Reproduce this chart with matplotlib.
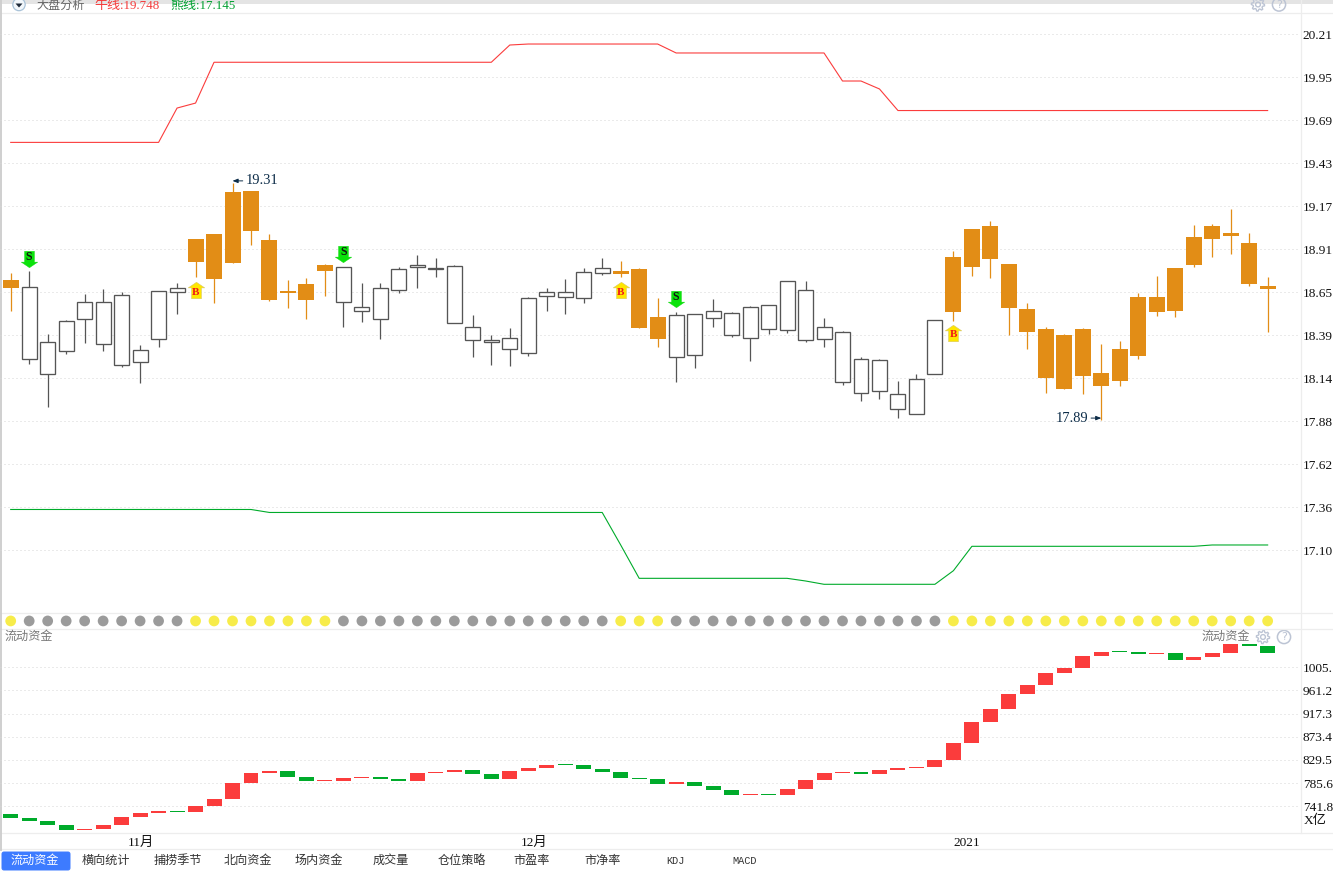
import matplotlib
matplotlib.use('Agg')
import matplotlib.pyplot as plt
from matplotlib.patches import Circle, FancyBboxPatch, Polygon
from matplotlib.path import Path
import numpy as np

plt.rcParams['font.family'] = ['Liberation Serif', 'Noto Sans CJK SC', 'DejaVu Sans']

W, H = 1333, 872

# candle data, one row per trading day
body_top = [18.729, 18.685, 18.353, 18.480, 18.595, 18.595, 18.637, 18.305, 18.661, 18.679,
            18.976, 19.006, 19.260, 19.266, 18.970, 18.663, 18.705, 18.820, 18.806, 18.566,
            18.679, 18.793, 18.820, 18.802, 18.812, 18.444, 18.367, 18.377, 18.619, 18.655,
            18.655, 18.775, 18.799, 18.783, 18.795, 18.506, 18.516, 18.522, 18.540, 18.528,
            18.564, 18.576, 18.721, 18.667, 18.444, 18.414, 18.251, 18.245, 18.040, 18.130,
            18.486, 18.868, 19.037, 19.055, 18.826, 18.554, 18.434, 18.398, 18.434, 18.169,
            18.313, 18.627, 18.627, 18.801, 18.989, 19.055, 19.013, 18.952, 18.693]
body_bot = [18.683, 18.251, 18.161, 18.299, 18.492, 18.341, 18.215, 18.233, 18.371, 18.655,
            18.838, 18.735, 18.832, 19.025, 18.609, 18.651, 18.609, 18.783, 18.595, 18.544,
            18.492, 18.667, 18.808, 18.793, 18.468, 18.365, 18.357, 18.311, 18.287, 18.631,
            18.625, 18.619, 18.769, 18.765, 18.440, 18.373, 18.263, 18.275, 18.498, 18.396,
            18.377, 18.432, 18.426, 18.365, 18.371, 18.112, 18.046, 18.058, 17.950, 17.920,
            18.161, 18.536, 18.808, 18.856, 18.560, 18.416, 18.138, 18.072, 18.150, 18.090,
            18.120, 18.271, 18.536, 18.542, 18.820, 18.976, 18.994, 18.705, 18.675]
high = [18.769, 18.783, 18.404, 18.488, 18.645, 18.675, 18.655, 18.337, 18.661, 18.709,
        18.976, 19.006, 19.314, 19.266, 19.006, 18.729, 18.741, 18.826, 18.808, 18.711,
        18.711, 18.808, 18.880, 18.862, 18.820, 18.518, 18.398, 18.440, 18.627, 18.681,
        18.735, 18.799, 18.862, 18.844, 18.801, 18.621, 18.536, 18.522, 18.615, 18.536,
        18.572, 18.576, 18.721, 18.723, 18.500, 18.422, 18.265, 18.253, 18.120, 18.162,
        18.486, 18.904, 19.037, 19.085, 18.826, 18.591, 18.446, 18.404, 18.440, 18.343,
        18.361, 18.651, 18.753, 18.801, 19.061, 19.067, 19.157, 19.013, 18.747]
low = [18.544, 18.225, 17.966, 18.285, 18.351, 18.303, 18.207, 18.110, 18.327, 18.524,
       18.749, 18.593, 18.832, 18.940, 18.603, 18.560, 18.494, 18.633, 18.446, 18.476,
       18.373, 18.651, 18.681, 18.747, 18.468, 18.267, 18.217, 18.213, 18.273, 18.544,
       18.526, 18.593, 18.761, 18.747, 18.440, 18.325, 18.114, 18.199, 18.446, 18.384,
       18.241, 18.404, 18.410, 18.355, 18.325, 18.096, 18.000, 18.012, 17.897, 17.920,
       18.161, 18.482, 18.753, 18.741, 18.398, 18.313, 18.048, 18.072, 18.042, 17.885,
       18.090, 18.253, 18.512, 18.506, 18.808, 18.868, 18.886, 18.693, 18.416]
# 1 = orange day and yellow dot, 0 = hollow day and grey dot
state = [1, 0, 0, 0, 0, 0, 0, 0, 0, 0,
         1, 1, 1, 1, 1, 1, 1, 1, 0, 0,
         0, 0, 0, 0, 0, 0, 0, 0, 0, 0,
         0, 0, 0, 1, 1, 1, 0, 0, 0, 0,
         0, 0, 0, 0, 0, 0, 0, 0, 0, 0,
         0, 1, 1, 1, 1, 1, 1, 1, 1, 1,
         1, 1, 1, 1, 1, 1, 1, 1, 1]

bull_line = [19.559, 19.559, 19.559, 19.559, 19.559, 19.559, 19.559, 19.559, 19.559, 19.766,
             19.796, 20.042, 20.042, 20.042, 20.042, 20.042, 20.042, 20.042, 20.042, 20.042,
             20.042, 20.042, 20.042, 20.042, 20.042, 20.042, 20.042, 20.146, 20.152, 20.152,
             20.152, 20.152, 20.152, 20.152, 20.152, 20.152, 20.098, 20.098, 20.098, 20.098,
             20.098, 20.098, 20.098, 20.098, 20.098, 19.929, 19.929, 19.881, 19.751, 19.751,
             19.751, 19.751, 19.751, 19.751, 19.751, 19.751, 19.751, 19.751, 19.751, 19.751,
             19.751, 19.751, 19.751, 19.751, 19.751, 19.751, 19.751, 19.751, 19.751]
bear_line = [17.346, 17.346, 17.346, 17.346, 17.346, 17.346, 17.346, 17.346, 17.346, 17.346,
             17.346, 17.346, 17.346, 17.346, 17.328, 17.328, 17.328, 17.328, 17.328, 17.328,
             17.328, 17.328, 17.328, 17.328, 17.328, 17.328, 17.328, 17.328, 17.328, 17.328,
             17.328, 17.328, 17.328, 17.132, 16.931, 16.931, 16.931, 16.931, 16.931, 16.931,
             16.931, 16.931, 16.931, 16.915, 16.895, 16.895, 16.895, 16.895, 16.895, 16.895,
             16.895, 16.977, 17.124, 17.124, 17.124, 17.124, 17.124, 17.124, 17.124, 17.124,
             17.124, 17.124, 17.124, 17.124, 17.124, 17.132, 17.132, 17.132, 17.132]

# running total, each block goes from one value to the next
flow = [727.1, 719.5, 713.8, 706.2, 696.7, 698.6, 706.2, 721.4, 729.0, 732.8,
        731.4, 742.2, 755.5, 785.8, 804.7, 808.6, 797.2, 789.6, 790.5, 795.3,
        797.2, 793.4, 789.6, 804.7, 806.7, 810.5, 802.9, 793.4, 808.6, 814.3,
        820.0, 819.4, 812.4, 806.7, 795.3, 793.4, 783.9, 787.7, 780.1, 772.5,
        763.0, 764.9, 763.6, 774.4, 791.5, 804.7, 806.7, 803.8, 810.5, 814.3,
        816.2, 829.4, 861.6, 901.4, 926.0, 954.5, 971.5, 994.2, 1003.7, 1026.3,
        1034.0, 1033.5, 1030.3, 1032.2, 1018.9, 1024.6, 1032.2, 1049.2, 1045.4, 1032.2]

price_ticks = [20.21, 19.951, 19.692, 19.432, 19.173, 18.914, 18.655, 18.396, 18.136, 17.877, 17.618, 17.359, 17.10]
price_labels = ['20.21', '19.95', '19.69', '19.43', '19.17', '18.91', '18.65', '18.39', '18.14', '17.88', '17.62', '17.36', '17.10']
flow_ticks = [1005.1, 961.2, 917.3, 873.4, 829.5, 785.6, 741.8]
flow_labels = ['1005.', '961.2', '917.3', '873.4', '829.5', '785.6', '741.8']
month_pos = [7.05, 28.3, 51.7]
month_labels = ['11月', '12月', '2021']
tab_names = ['流动资金', '横向统计', '捕捞季节', '北向资金', '场内资金', '成交量', '仓位策略', '市盈率', '市净率', 'KDJ', 'MACD']
tab_centers = [35, 106, 178, 248, 319, 391, 462, 532, 603, 675, 745]

sell_idx = [1, 18, 36]
sell_price = [18.856, 18.886, 18.615]
buy_idx = [10, 33, 51]
buy_price = [18.669, 18.669, 18.410]

ORANGE = '#E28D16'
DARK = '#555555'
RED = '#FB3C3C'
GREEN = '#00AB2B'
NAVY = '#0C2C48'
ICON = '#BCC4D4'
LINE = '#EDEDED'
GRID = '#D6D6D6'


def make_axes(fig, left, top, right, bottom):
    return fig.add_axes([left / W, 1 - bottom / H, (right - left) / W, (bottom - top) / H])


def style_axes(ax):
    ax.patch.set_visible(False)
    for s in ax.spines.values():
        s.set_visible(False)
    ax.set_xlim(-0.579, 69.75)
    ax.yaxis.tick_right()
    ax.tick_params(axis='both', length=0, labelsize=9.6, pad=2.0, labelcolor='#111111')
    ax.grid(axis='y', color=GRID, lw=0.72, ls=(0, (1, 3)))
    ax.set_axisbelow(True)


def draw_gear(ax, cx, cy):
    # outline gear icon, 8 teeth
    angles = np.arange(0, 2 * np.pi, np.pi / 16)
    radius = np.where((np.arange(len(angles)) % 4) < 2, 6.6, 4.9)
    pts = np.column_stack([cx + radius * np.cos(angles), cy + radius * np.sin(angles)])
    ax.add_patch(Polygon(pts, fc='none', ec=ICON, lw=1.0))
    ax.add_patch(Circle((cx, cy), 2.4, fc='none', ec=ICON, lw=1.0))


fig = plt.figure(figsize=(W / 100, H / 100), dpi=100)

# layout furniture drawn in pixel units
bg = fig.add_axes([0, 0, 1, 1])
bg.set_xlim(0, W)
bg.set_ylim(H, 0)
bg.axis('off')
bg.axhspan(0, 4.5, color='#E4E4E4', lw=0)
for y in [13.5, 612.5, 628.5, 832.5, 848.5]:
    bg.plot([0, W], [y, y], color=LINE, lw=0.9)
bg.plot([1300.5, 1300.5], [0, 832.5], color=LINE, lw=0.9)
bg.plot([0.5, 0.5], [0, 850], color='#CFCFCF', lw=1.4)

bg.add_patch(Circle((19, 4.5), 6.2, fc='#F2F7FB', ec='#A9C2D8', lw=0.9))
bg.add_patch(Polygon([(15.5, 3.5), (22.5, 3.5), (19, 7.5)], fc='#1E2A3A', ec='none'))
bg.text(36, 6, '大盘分析', color='#666666', fontsize=8.7, va='center')
bg.text(94, 6, '牛线:19.748', color='#F53A3A', fontsize=9.4, va='center')
bg.text(170, 6, '熊线:17.145', color='#00A030', fontsize=9.4, va='center')
bg.text(5, 636.5, '流动资金', color='#777777', fontsize=8.7, va='center')
bg.text(1202, 636.5, '流动资金', color='#777777', fontsize=8.7, va='center')
bg.text(1304, 821, 'X亿', color='#111111', fontsize=9.6, va='center')

for cx, cy in [(1258, 4.5), (1263, 637)]:
    draw_gear(bg, cx, cy)
for cx, cy in [(1279, 4.5), (1284, 637)]:
    bg.add_patch(Circle((cx, cy), 6.6, fc='none', ec=ICON, lw=1.1))
    bg.text(cx, cy, '?', color=ICON, fontsize=8, ha='center', va='center', family='DejaVu Sans')

bg.add_patch(FancyBboxPatch((2, 852), 68, 18, boxstyle='round,pad=0,rounding_size=2', fc='#3D7BFF', ec='#3D7BFF', lw=0.7))
for i, (name, cx) in enumerate(zip(tab_names, tab_centers)):
    if name in ('KDJ', 'MACD'):
        bg.text(cx, 861, name, color='#333333', fontsize=7.4, ha='center', va='center', family='Liberation Mono')
    else:
        bg.text(cx, 861, name, color='white' if i == 0 else '#333333', fontsize=8.7, ha='center', va='center')

# price panel
ax = make_axes(fig, 0, 13, 1300, 612)
style_axes(ax)
ax.set_ylim(16.728, 20.339)
ax.set_yticks(price_ticks, price_labels)
ax.set_xticks([])

days = np.arange(len(state))
top = np.array(body_top)
bot = np.array(body_bot)
is_orange = np.array(state) == 1
wick_colors = [ORANGE if s else DARK for s in state]
ax.vlines(days, low, high, colors=wick_colors, lw=0.9, zorder=2)
ax.bar(days[is_orange], (top - bot)[is_orange], bottom=bot[is_orange], width=0.866, color=ORANGE, lw=0, zorder=3)
ax.bar(days[~is_orange], (top - bot)[~is_orange], bottom=bot[~is_orange], width=0.81, facecolor='white', edgecolor=DARK, lw=0.95, zorder=3)

ax.plot(days, bull_line, color=RED, lw=0.8, zorder=2)
ax.plot(days, bear_line, color=GREEN, lw=0.8, zorder=2)

up_arrow = Path([(-0.5, 0.16), (0, 0.5), (0.5, 0.16), (0.3, 0.16), (0.3, -0.5), (-0.3, -0.5), (-0.3, 0.16), (-0.5, 0.16)], closed=True)
down_arrow = Path([(-0.5, -0.16), (0, -0.5), (0.5, -0.16), (0.3, -0.16), (0.3, 0.5), (-0.3, 0.5), (-0.3, -0.16), (-0.5, -0.16)], closed=True)
ax.plot(sell_idx, sell_price, ls='none', marker=down_arrow, ms=11.8, mfc='#0BE30B', mec='#0BD80B', mew=0.3, zorder=5)
ax.plot(buy_idx, buy_price, ls='none', marker=up_arrow, ms=11.8, mfc='#FFE600', mec='#D8C860', mew=0.4, zorder=5)
for i, p in zip(sell_idx, sell_price):
    ax.annotate('S', xy=(i, p), xytext=(0, 2), textcoords='offset pixels', color='#111111', fontsize=8.5,
                fontweight='bold', ha='center', va='center', zorder=6)
for i, p in zip(buy_idx, buy_price):
    ax.annotate('B', xy=(i, p), xytext=(0, -2), textcoords='offset pixels', color='#F01818', fontsize=8,
                fontweight='bold', ha='center', va='center', zorder=6)

arrow = dict(arrowstyle='-|>,head_width=0.12,head_length=0.3', color=NAVY, lw=0.7, shrinkA=0, shrinkB=0)
ax.annotate('19.31', xy=(12, 19.327), xytext=(13, 0), textcoords='offset pixels', color=NAVY,
            fontsize=10.4, va='center', ha='left', arrowprops=arrow, zorder=6)
ax.annotate('17.89', xy=(59, 17.897), xytext=(-13, 0), textcoords='offset pixels', color=NAVY,
            fontsize=10.4, va='center', ha='right', arrowprops=arrow, zorder=6)

# state dots between the panels
dots = make_axes(fig, 0, 613, 1300, 628)
dots.axis('off')
dots.set_xlim(-0.579, 69.75)
dots.set_ylim(0, 1)
dot_colors = ['#F7EC4A' if s else '#9B9B9B' for s in state]
dots.scatter(days, [0.47] * len(days), s=60, c=dot_colors, lw=0)

# liquidity panel
ax2 = make_axes(fig, 0, 628, 1300, 832)
style_axes(ax2)
ax2.set_ylim(693.0, 1079.5)
ax2.set_yticks(flow_ticks, flow_labels)
ax2.set_xticks(month_pos, month_labels)
ax2.tick_params(axis='x', pad=3.5)

flow = np.array(flow)
opens = flow[:-1]
closes = flow[1:]
bar_colors = [RED if c >= o else GREEN for o, c in zip(opens, closes)]
heights = np.maximum(np.abs(closes - opens), 1.9)
ax2.bar(days, heights, bottom=np.minimum(opens, closes), width=0.81, color=bar_colors, lw=0, zorder=3)

fig.savefig('out.png', dpi=100)
